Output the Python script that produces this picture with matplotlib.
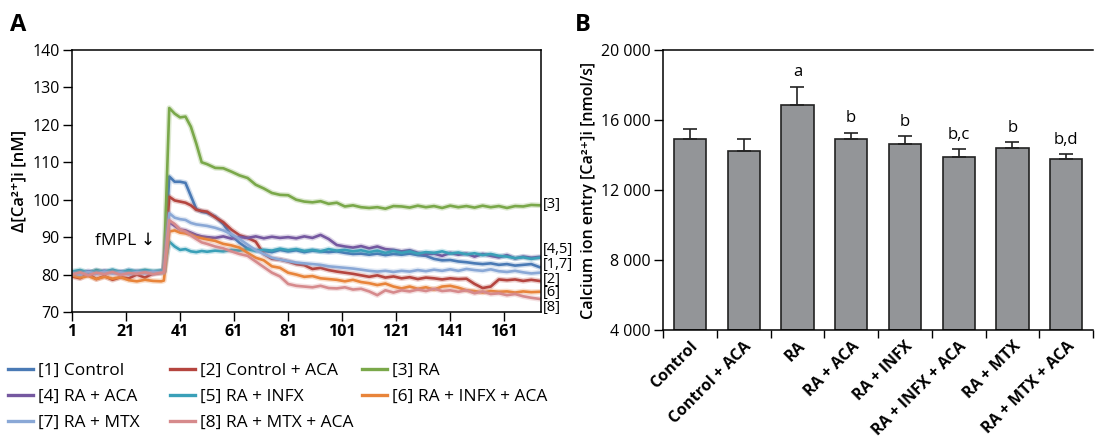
import matplotlib
matplotlib.use("Agg")
import matplotlib.pyplot as plt
from matplotlib.lines import Line2D
import numpy as np

plt.rcParams['font.family'] = ['Open Sans', 'DejaVu Sans']

# ---------------- Panel A data ----------------
time_base = [1, 4, 7, 10, 13, 16, 19, 22, 25, 28, 31, 34, 35]
time_spike = [37, 39, 41, 43, 45, 47, 49, 51]
time_tail = list(range(54, 175, 3))
time_points = time_base + time_spike + time_tail

ctrl = [80.2, 80.8, 80.0, 81.2, 80.5, 81.0, 80.3, 81.2, 80.6, 81.0, 80.4, 81.0, 81.0,
        106.2, 104.8, 104.8, 104.5, 101.0, 97.5, 96.8, 96.5,
        95.5, 93.5, 90.5, 88.5, 87.0, 86.5, 86.3, 86.0, 86.6, 86.2,
        86.5, 86.0, 86.4, 86.2, 86.0, 86.2, 85.8, 85.5, 85.6, 85.3,
        85.6, 85.2, 85.5, 85.3, 85.6, 85.2, 85.0, 84.2, 83.8, 83.9,
        83.5, 83.3, 83.0, 82.8, 83.0, 82.6, 82.8, 82.4, 82.6, 82.8, 82.0]
ctrl_aca = [79.5, 79.0, 80.2, 78.8, 79.6, 78.6, 79.3, 79.0, 80.0, 79.2, 80.3, 80.5, 80.8,
            100.8, 99.8, 99.5, 99.2, 98.5, 97.3, 97.0, 96.8,
            95.3, 94.0, 92.0, 90.5, 89.8, 88.8, 85.5, 84.2, 84.0, 83.5,
            82.8, 82.5, 81.5, 81.8, 81.2, 80.8, 80.5, 80.2, 79.8, 79.4,
            79.8, 79.2, 79.5, 79.0, 79.3, 78.8, 79.2, 79.0, 78.7, 79.0,
            78.8, 78.9, 77.5, 76.4, 76.8, 78.7, 78.5, 78.7, 78.3, 78.6, 78.3]
ra = [80.5, 80.9, 80.3, 81.0, 80.6, 80.9, 80.4, 80.8, 80.5, 81.0, 80.7, 80.8, 81.0,
      124.5, 123.0, 122.0, 122.2, 119.5, 115.0, 110.0, 109.5,
      108.5, 108.4, 107.5, 106.5, 105.8, 104.0, 103.0, 101.8, 101.3, 101.2,
      100.0, 99.5, 99.3, 99.6, 98.9, 99.2, 98.2, 98.5, 98.0, 97.8,
      98.0, 97.6, 98.3, 98.2, 97.9, 98.4, 98.0, 98.3, 97.8, 98.4,
      98.0, 98.3, 97.9, 98.4, 98.0, 98.3, 97.8, 98.3, 98.2, 98.6, 98.5]
ra_aca = [80.6, 80.2, 80.9, 80.4, 81.0, 80.5, 80.8, 80.3, 80.9, 80.6, 80.4, 80.7, 80.8,
          94.0, 93.0, 92.0, 91.8, 91.2, 90.6, 90.2, 90.0,
          89.8, 90.2, 89.6, 90.0, 89.8, 90.2, 89.7, 90.1, 89.8, 90.0,
          89.7, 90.2, 89.8, 90.6, 89.5, 87.9, 87.5, 87.2, 87.6, 87.0,
          87.5, 86.8, 86.6, 86.2, 86.5, 85.8, 85.5, 85.6, 85.0, 85.8,
          85.3, 85.6, 84.8, 85.5, 85.0, 84.6, 85.2, 84.3, 84.8, 84.5, 84.7]
ra_infx = [80.8, 81.2, 80.5, 81.0, 80.7, 81.3, 80.6, 81.1, 80.8, 81.2, 80.9, 81.0, 81.0,
           88.8, 87.5, 86.6, 86.8, 86.2, 86.0, 86.3, 86.1,
           86.4, 86.2, 86.6, 86.4, 86.8, 86.3, 86.6, 86.4, 86.9, 86.5,
           86.8, 86.3, 86.6, 86.2, 86.8, 86.4, 86.6, 86.2, 86.5, 86.0,
           86.4, 85.8, 86.3, 85.8, 86.2, 85.6, 86.0, 85.8, 86.2, 85.6,
           85.9, 85.4, 85.7, 85.2, 85.5, 85.0, 84.8, 84.4, 84.6, 84.2, 84.5]
ra_infx_aca = [79.8, 79.2, 79.6, 78.8, 79.4, 78.9, 79.3, 78.5, 78.2, 78.6, 78.3, 78.2, 78.4,
               91.5, 91.8, 91.2, 91.0, 90.6, 90.0, 89.7, 89.4,
               89.0, 88.2, 87.8, 87.2, 85.8, 84.5, 83.8, 82.2, 81.8, 80.5,
               80.0, 79.4, 79.6, 79.0, 78.8, 78.6, 78.2, 78.6, 78.0, 77.7,
               77.2, 77.6, 76.8, 76.3, 76.8, 76.2, 76.6, 76.0, 76.8, 77.0,
               76.5, 75.8, 75.6, 75.2, 75.6, 75.4, 75.5, 75.2, 75.5, 75.3, 75.4]
ra_mtx = [80.4, 80.0, 80.7, 80.2, 80.8, 80.3, 80.6, 80.1, 80.7, 80.4, 80.8, 80.5, 80.6,
          96.4, 95.2, 94.8, 94.6, 93.8, 93.4, 93.2, 93.0,
          92.5, 91.8, 90.8, 89.5, 88.0, 86.5, 85.5, 84.5, 84.0, 83.6,
          83.2, 83.0, 82.8, 82.6, 82.2, 82.0, 81.8, 81.6, 81.3, 81.0,
          80.8, 81.0, 80.7, 81.0, 80.8, 81.2, 80.9, 81.3, 81.0, 81.4,
          81.0, 81.5, 81.2, 81.0, 81.4, 80.9, 80.7, 81.0, 80.6, 80.3, 80.5]
ra_mtx_aca = [80.0, 80.6, 79.8, 80.5, 80.1, 80.7, 79.9, 80.4, 80.2, 80.6, 80.1, 80.5, 80.6,
              94.5, 93.5, 92.0, 91.5, 90.5, 89.5, 88.6, 88.2,
              87.5, 87.0, 86.2, 85.5, 85.0, 83.5, 82.0, 80.5, 79.5, 77.5,
              77.0, 76.8, 76.6, 77.0, 76.4, 76.3, 76.6, 76.0, 76.2, 75.5,
              74.5, 75.8, 75.2, 75.8, 75.5, 76.0, 75.6, 76.2, 75.6, 75.8,
              75.4, 75.8, 75.0, 75.5, 74.8, 75.0, 74.5, 74.8, 74.2, 73.8, 73.5]

series_labels = ["[1] Control", "[2] Control + ACA", "[3] RA", "[4] RA + ACA",
                 "[5] RA + INFX", "[6] RA + INFX + ACA", "[7] RA + MTX", "[8] RA + MTX + ACA"]
series_values = [ctrl, ctrl_aca, ra, ra_aca, ra_infx, ra_infx_aca, ra_mtx, ra_mtx_aca]
series_colors = ["#4a7ab5", "#b5453f", "#7aa84a", "#7558a0",
                 "#3aa0b8", "#e8843a", "#8aa8d6", "#d68a8c"]

end_labels = ["[3]", "[4,5]", "[1,7]", "[2]", "[6]", "[8]"]
end_label_y = [98.6, 86.6, 82.6, 78.8, 75.1, 71.3]

xticks_a = [1, 21, 41, 61, 81, 101, 121, 141, 161]
yticks_a = [70, 80, 90, 100, 110, 120, 130, 140]

# ---------------- Panel B data ----------------
groups = ["Control", "Control + ACA", "RA", "RA + ACA", "RA + INFX",
          "RA + INFX + ACA", "RA + MTX", "RA + MTX + ACA"]
entry_mean = [14930, 14250, 16860, 14930, 14630, 13890, 14400, 13750]
entry_err = [540, 650, 1050, 350, 470, 450, 360, 290]
sig_letters = ["", "", "a", "b", "b", "b,c", "b", "b,d"]
yticks_b = [4000, 8000, 12000, 16000, 20000]
yticklabels_b = ["4 000", "8 000", "12 000", "16 000", "20 000"]

W, H = 1097, 443
fig = plt.figure(figsize=(W / 100, H / 100), dpi=100)

# ---------------- Panel A ----------------
axA = fig.add_axes([72 / W, 1 - 312 / H, (541 - 72) / W, (312 - 50) / H])
for vals, col, lab in zip(series_values, series_colors, series_labels):
    axA.plot(time_points, vals, color=col, lw=4.0, alpha=0.25, solid_capstyle='round')
    axA.plot(time_points, vals, color=col, lw=1.9, label=lab)
axA.set_xlim(1, 174.6)
axA.set_ylim(70, 140)
axA.set_xticks(xticks_a)
axA.set_yticks(yticks_a)
axA.tick_params(axis='both', direction='out', length=6.5, width=1, labelsize=11.5,
                color='black', pad=2.5)
for t in axA.get_xticklabels():
    t.set_fontweight('bold')
for s in axA.spines.values():
    s.set_linewidth(1.1)
axA.set_ylabel("Δ[Ca²⁺]i [nM]", fontsize=12, fontweight='semibold', labelpad=3)
axA.text(9.5, 89, "fMPL ↓", fontsize=12.5, va='center', ha='left')
for lab, yv in zip(end_labels, end_label_y):
    axA.text(175.2, yv, lab, fontsize=10.5, va='center', ha='left', clip_on=False)

fig.text(10 / W, 1 - 25 / H, "A", fontsize=17, fontweight='bold', va='center', ha='left')

# Legend: three columns placed at fixed positions
handles = [Line2D([0], [0], color=c, lw=2.4) for c in series_colors]
col_members = [[0, 3, 6], [1, 4, 7], [2, 5]]
col_x = [8, 170, 362]
for members, cx in zip(col_members, col_x):
    leg = fig.legend([handles[i] for i in members], [series_labels[i] for i in members],
                     loc='upper left', bbox_to_anchor=(cx / W, 1 - 363 / H), ncol=1,
                     frameon=False, fontsize=12.5, handlelength=1.45, handletextpad=0.3,
                     labelspacing=0.56, borderaxespad=0, borderpad=0)

# ---------------- Panel B ----------------
axB = fig.add_axes([663 / W, 1 - 330 / H, (1093 - 663) / W, (330 - 50) / H])
xpos = np.arange(len(groups))
axB.bar(xpos, np.array(entry_mean) - 4000, bottom=4000, width=0.6, color="#939598",
        edgecolor="#222222", linewidth=1.2, zorder=2)
axB.errorbar(xpos, entry_mean, yerr=[np.zeros(len(groups)), entry_err], fmt='none',
             ecolor="#222222", elinewidth=1.2, capsize=5, capthick=1.2, zorder=3)
for x, m, e, s in zip(xpos, entry_mean, entry_err, sig_letters):
    if s:
        axB.text(x, m + e + 350, s, ha='center', va='bottom', fontsize=12)
axB.set_xlim(-0.5, len(groups) - 0.5)
axB.set_ylim(4000, 20000)
axB.set_yticks(yticks_b)
axB.set_yticklabels(yticklabels_b)
axB.set_xticks(xpos)
axB.set_xticklabels(groups, rotation=45, ha='right', rotation_mode='anchor',
                    fontsize=11.5, fontweight='bold')
axB.set_xticks(np.arange(-0.5, len(groups), 1.0), minor=True)
axB.tick_params(axis='x', which='major', length=0, pad=6)
axB.tick_params(axis='x', which='minor', length=6, width=1, direction='out')
axB.tick_params(axis='y', direction='out', length=6.5, width=1, labelsize=11.5, pad=2.5)
axB.spines['right'].set_visible(False)
for s in axB.spines.values():
    s.set_linewidth(1.1)
axB.set_ylabel("Calcium ion entry [Ca²⁺]i [nmol/s]", fontsize=11.5, fontweight='semibold',
               labelpad=3)

fig.text(575 / W, 1 - 25 / H, "B", fontsize=17, fontweight='bold', va='center', ha='left')

fig.savefig("out.png", dpi=100)
